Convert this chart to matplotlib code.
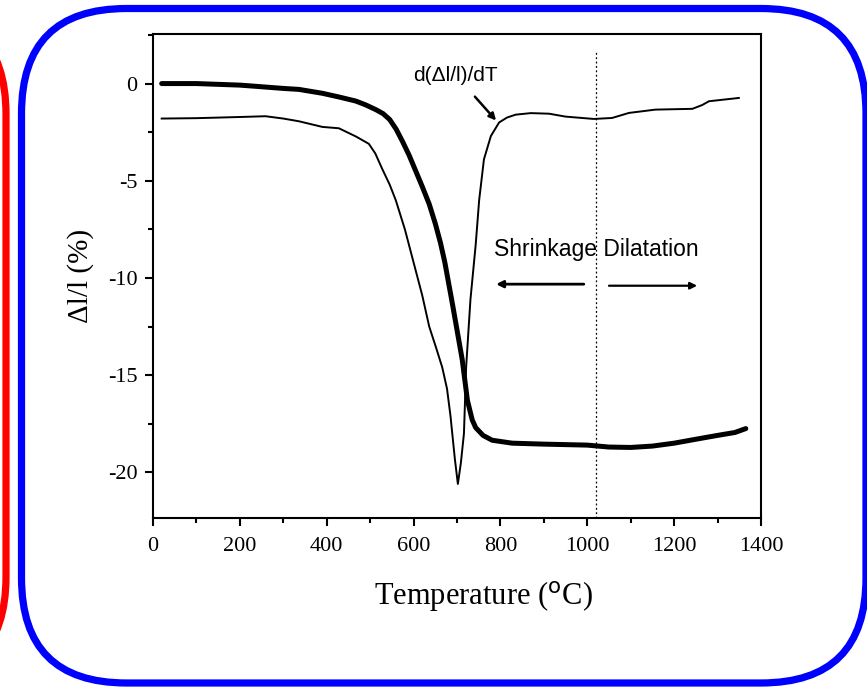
import matplotlib
matplotlib.use("Agg")
import matplotlib.pyplot as plt
from matplotlib.patches import FancyBboxPatch
from matplotlib.ticker import MultipleLocator

plt.rcParams['axes.unicode_minus'] = False

# Thick curve: dilatometric shrinkage Δl/l (%)
temp_dl = [20, 100, 200, 236, 300, 336, 390, 430, 467, 490, 513, 530, 545, 560,
           575, 590, 605, 620, 636, 650, 662, 672, 690, 712, 724, 735, 743, 760,
           781, 827, 900, 1000, 1050, 1100, 1150, 1200, 1257, 1300, 1340, 1365]
dl_l = [0.0, 0.0, -0.08, -0.14, -0.25, -0.3, -0.5, -0.7, -0.9, -1.1, -1.34, -1.55,
        -1.85, -2.35, -3.0, -3.7, -4.5, -5.3, -6.2, -7.2, -8.2, -9.2, -11.4, -14.2,
        -16.3, -17.3, -17.7, -18.1, -18.35, -18.5, -18.55, -18.6, -18.7, -18.72,
        -18.65, -18.5, -18.27, -18.1, -17.95, -17.75]

# Thin curve: derivative d(Δl/l)/dT (arbitrary offset scale)
temp_deriv = [20, 100, 200, 259, 300, 336, 390, 428, 467, 497, 512, 528, 545, 559,
              580, 600, 620, 636, 652, 666, 677, 685, 695, 702, 709, 716, 721, 731,
              743, 751, 762, 778, 797, 815, 835, 870, 912, 950, 1015, 1057, 1096,
              1157, 1242, 1265, 1280, 1349]
deriv = [-1.8, -1.78, -1.72, -1.68, -1.8, -1.94, -2.23, -2.3, -2.72, -3.1, -3.6,
         -4.4, -5.2, -6.0, -7.5, -9.2, -10.9, -12.5, -13.6, -14.6, -15.7, -17.1,
         -19.3, -20.6, -19.5, -18.0, -14.6, -11.1, -8.3, -6.0, -3.9, -2.7, -2.0,
         -1.75, -1.6, -1.52, -1.55, -1.7, -1.82, -1.77, -1.51, -1.34, -1.3, -1.1,
         -0.91, -0.74]

x_ticks = [0, 200, 400, 600, 800, 1000, 1200, 1400]
y_ticks = [0, -5, -10, -15, -20]
divider_T = 1020

W, H = 867, 687
fig = plt.figure(figsize=(W / 100, H / 100), dpi=100)

# Background frame layer (pixel coordinates)
bg = fig.add_axes([0, 0, 1, 1], zorder=0)
bg.set_xlim(0, W)
bg.set_ylim(H, 0)
bg.axis('off')
bg.add_patch(FancyBboxPatch((21.5, 8.5), 866 - 21.5, 683 - 8.5,
                            boxstyle="round,pad=0,rounding_size=105",
                            fill=False, ec='#0000ff', lw=5.2, clip_on=False))
bg.add_patch(FancyBboxPatch((-400, 9), 406, 673,
                            boxstyle="round,pad=0,rounding_size=105",
                            fill=False, ec='#ff0000', lw=5.2, clip_on=False))

ax = fig.add_axes([153 / W, 1 - 518 / H, (761 - 153) / W, (518 - 34) / H], zorder=1)
ax.patch.set_alpha(0)

ax.plot(temp_dl, dl_l, color='black', lw=3.6, solid_capstyle='round',
        solid_joinstyle='round')
ax.plot(temp_deriv, deriv, color='black', lw=1.4, solid_joinstyle='round')
ax.axvline(divider_T, ymax=0.967, color='black', lw=0.9, linestyle=(0, (1.5, 2)))

ax.set_xlim(0, 1400)
ax.set_ylim(-22.35, 2.55)
ax.set_xticks(x_ticks)
ax.set_yticks(y_ticks)
ax.xaxis.set_minor_locator(MultipleLocator(100))
ax.yaxis.set_minor_locator(MultipleLocator(2.5))
ax.tick_params(which='both', direction='out', top=False, right=False, width=1.5)
ax.tick_params(which='major', length=6, labelsize=16)
ax.tick_params(axis='x', which='major', pad=8)
ax.tick_params(axis='y', which='major', pad=5)
ax.tick_params(which='minor', length=3.5)
for lab in ax.get_xticklabels() + ax.get_yticklabels():
    lab.set_fontfamily('Liberation Serif')
for s in ax.spines.values():
    s.set_linewidth(1.5)

ax.set_xlabel('Temperature ($^{\\rm o}$C)', fontsize=22, family='Liberation Serif')
ax.xaxis.set_label_coords(0.543, -0.125)
ax.set_ylabel('Δl/l (%)', fontsize=21, family='Liberation Serif', labelpad=10)

ax.annotate('d(Δl/l)/dT', xy=(790, -1.9), xytext=(697, 0.44),
            ha='center', va='center', fontsize=15, family='Liberation Sans',
            arrowprops=dict(arrowstyle='-|>', color='black', lw=1.8,
                            mutation_scale=10, shrinkA=9, shrinkB=0))

ax.text(1020, -8.52, 'Shrinkage Dilatation', ha='center', va='center',
        fontsize=16.5, family='Liberation Sans')
ax.annotate('', xy=(790, -10.32), xytext=(992, -10.32),
            arrowprops=dict(arrowstyle='-|>', color='black', lw=2.0,
                            mutation_scale=10, shrinkA=0, shrinkB=0))
ax.annotate('', xy=(1253, -10.4), xytext=(1050, -10.4),
            arrowprops=dict(arrowstyle='-|>', color='black', lw=1.6,
                            mutation_scale=10, shrinkA=0, shrinkB=0))

fig.savefig('out.png', dpi=100)
